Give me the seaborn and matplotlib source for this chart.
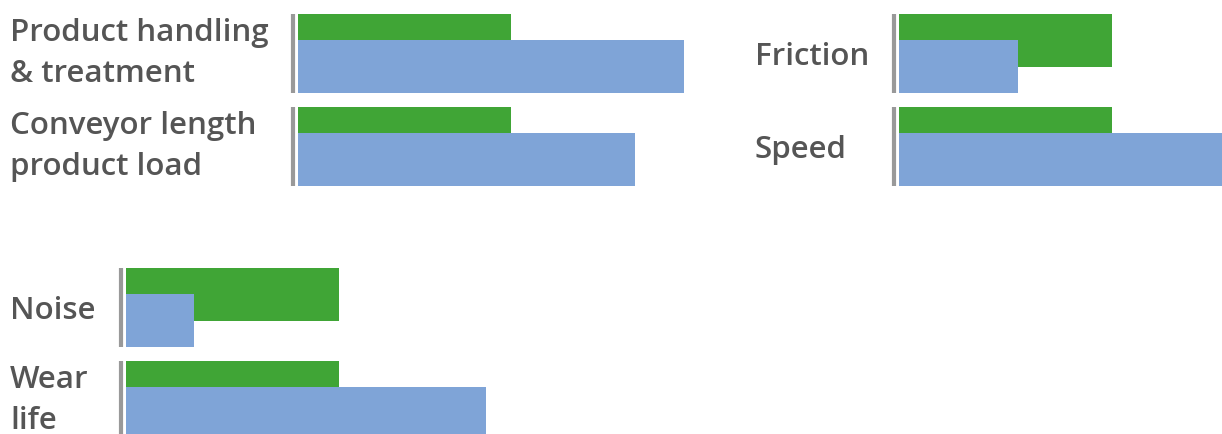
import numpy as np
import matplotlib
matplotlib.use("Agg")
import matplotlib.pyplot as plt
import seaborn as sns

sns.set_style("white")
plt.rcParams['font.family'] = ['Open Sans', 'DejaVu Sans']

# --- dados ---
labels_p1 = ["Product handling\n& treatment", "Conveyor length\nproduct load"]
green_p1 = [100, 100]
blue_p1 = [181, 158]

labels_p2 = ["Friction", "Speed"]
green_p2 = [100, 100]
blue_p2 = [56, 175]

labels_p3 = ["Noise", "Wear\nlife"]
green_p3 = [100, 100]
blue_p3 = [32, 169]

GREEN = '#40A536'
BLUE = '#7FA4D7'
TEXT = '#555555'
LINE = '#999999'

W, H = 1222, 434
fig = plt.figure(figsize=(W / 100, H / 100), dpi=100)

px_per_unit = 2.13   # 213 px = 100
bar_h = 0.57         # altura da barra (1 = distância entre grupos)
offset = 0.28        # deslocamento da barra azul
y_top = -bar_h / 2
y_bot = 1 + offset + bar_h / 2
ax_h_px = (y_bot - y_top) * 93


def painel(left_px, top_px, width_px, label_x_px, labels, green, blue):
    ax = fig.add_axes([left_px / W, (H - top_px - ax_h_px) / H,
                       width_px / W, ax_h_px / H])
    pos = np.arange(len(labels))
    sns.barplot(x=green, y=pos, orient='h', native_scale=True, width=bar_h,
                color=GREEN, saturation=1, linewidth=0, ax=ax)
    sns.barplot(x=blue, y=pos + offset, orient='h', native_scale=True, width=bar_h,
                color=BLUE, saturation=1, linewidth=0, ax=ax)
    ax.set_xlim(0, width_px / px_per_unit)
    ax.set_ylim(y_bot, y_top)
    ax.axis('off')
    # linha cinza à esquerda de cada grupo
    x_line = -5.5 / px_per_unit
    for g in pos:
        ax.plot([x_line, x_line], [g - bar_h / 2, g + offset + bar_h / 2],
                color=LINE, lw=3, clip_on=False, solid_capstyle='butt')
    for g, lab in zip(pos, labels):
        va = 'center' if '\n' in lab else 'center_baseline'
        ax.annotate(lab, xy=(label_x_px / W, g + offset / 2),
                    xycoords=('figure fraction', 'data'),
                    ha='left', va=va, fontsize=22.5, fontweight='semibold',
                    color=TEXT, linespacing=1.45)
    return ax


painel(298, 14, 420, 10, labels_p1, green_p1, blue_p1)
painel(899, 14, 323, 755, labels_p2, green_p2, blue_p2)
painel(126, 268, 420, 10, labels_p3, green_p3, blue_p3)

fig.savefig('out.png', dpi=100)
